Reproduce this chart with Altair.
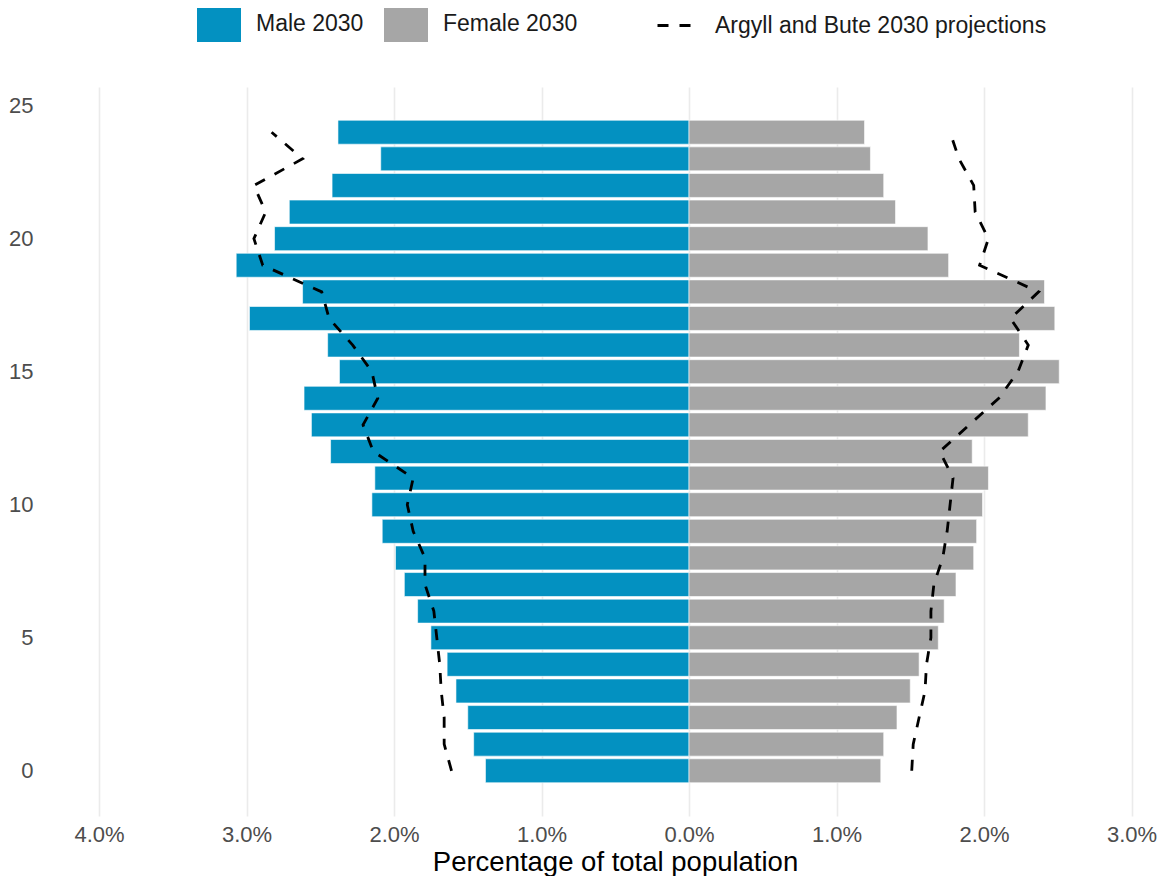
import altair as alt
import pandas as pd

# ---------------- data ----------------
ages = list(range(25))
sex_labels = ["Male 2030", "Female 2030"]
proj_label = "Argyll and Bute 2030 projections"

# 2030 shares (% of total population) per single year of age
male_2030 = [1.38, 1.46, 1.50, 1.58, 1.64, 1.75, 1.84, 1.93, 1.99, 2.08,
             2.15, 2.13, 2.43, 2.56, 2.61, 2.37, 2.45, 2.98, 2.62, 3.07,
             2.81, 2.71, 2.42, 2.09, 2.38]
female_2030 = [1.30, 1.32, 1.41, 1.50, 1.56, 1.69, 1.73, 1.81, 1.93, 1.95,
               1.99, 2.03, 1.92, 2.30, 2.42, 2.51, 2.24, 2.48, 2.41, 1.76,
               1.62, 1.40, 1.32, 1.23, 1.19]

# Argyll and Bute 2030 projections (dashed outline)
male_ab = [1.61, 1.66, 1.66, 1.68, 1.69, 1.71, 1.73, 1.79, 1.79, 1.87,
           1.91, 1.87, 2.14, 2.21, 2.11, 2.15, 2.28, 2.44, 2.49, 2.89,
           2.95, 2.87, 2.95, 2.62, 2.83]
female_ab = [1.51, 1.52, 1.56, 1.60, 1.61, 1.64, 1.64, 1.66, 1.72, 1.75,
             1.77, 1.79, 1.70, 1.90, 2.10, 2.23, 2.30, 2.18, 2.37, 1.97,
             2.03, 1.94, 1.93, 1.83, 1.77]

x_ticks = [-4, -3, -2, -1, 0, 1, 2, 3]
y_ticks = [0, 5, 10, 15, 20, 25]

bar_df = pd.DataFrame({
    "age": ages + ages,
    "sex": [sex_labels[0]] * len(ages) + [sex_labels[1]] * len(ages),
    "value": male_2030 + female_2030,
})
line_df = pd.DataFrame({
    "age": ages + ages,
    "side": ["male"] * len(ages) + ["female"] * len(ages),
    "value": male_ab + female_ab,
    "series": [proj_label] * (2 * len(ages)),
})

FONT = "Liberation Sans"

x_scale = alt.Scale(domain=[-4.373, 3.166], nice=False, zero=False)
y_scale = alt.Scale(domain=[-1.7, 25.7], nice=False, zero=False)

x_axis = alt.Axis(
    values=x_ticks,
    labelExpr="format(abs(datum.value) / 100, '.1%')",
    title="Percentage of total population",
    titleFontSize=27.5, titleFontWeight="normal", titleColor="#000000",
    titleBaseline="alphabetic", titleY=54, titleX=571, titleAlign="center",
    labelFontSize=22, labelColor="#4D4D4D", labelPadding=8,
    domain=False, ticks=False, grid=True, gridColor="#EBEBEB", gridWidth=1.6,
)
y_axis = alt.Axis(
    values=y_ticks, title=None,
    labelFontSize=22, labelColor="#4D4D4D", labelPadding=11,
    domain=False, ticks=False, grid=False,
)

bars = alt.Chart(bar_df).transform_calculate(
    pct="datum.sex == 'Male 2030' ? -datum.value : datum.value",
    y_lo="datum.age - 0.45",
    y_hi="datum.age + 0.45",
).mark_bar(stroke="white", strokeWidth=0.6).encode(
    x=alt.X("pct:Q", scale=x_scale, axis=x_axis),
    x2=alt.datum(0),
    y=alt.Y("y_lo:Q", scale=y_scale, axis=y_axis),
    y2="y_hi:Q",
    color=alt.Color(
        "sex:N",
        scale=alt.Scale(domain=sex_labels, range=["#0391C1", "#A6A6A6"]),
        legend=alt.Legend(
            orient="none", legendX=153, legendY=-85, direction="horizontal",
            title=None, symbolType="M-1,-0.818H1V0.818H-1Z", symbolSize=1936,
            symbolStrokeWidth=0, labelFontSize=23, labelColor="#1A1A1A",
            labelOffset=15, columnPadding=20, padding=0, labelFont=FONT,
            labelLimit=600,
        ),
    ),
)

lines = alt.Chart(line_df).transform_calculate(
    pct="datum.side == 'male' ? -datum.value : datum.value",
).mark_line(color="black", strokeWidth=2.8).encode(
    x=alt.X("pct:Q", scale=x_scale, axis=x_axis),
    y=alt.Y("age:Q", scale=y_scale, axis=y_axis),
    detail="side:N",
    order="age:Q",
    strokeDash=alt.StrokeDash(
        "series:N",
        scale=alt.Scale(domain=[proj_label], range=[[11, 11]]),
        legend=alt.Legend(
            orient="none", legendX=612, legendY=-80, direction="horizontal",
            title=None, symbolSize=1156, symbolStrokeWidth=2.8,
            symbolStrokeColor="black", labelFontSize=23, labelColor="#1A1A1A",
            labelOffset=22, padding=0, labelFont=FONT, labelLimit=600,
        ),
    ),
)

chart = alt.layer(bars, lines).properties(
    width=1112,
    height=729,
    autosize=alt.AutoSizeParams(type="none"),
    padding={"left": 36, "top": 79, "right": 1, "bottom": 60},
).configure(
    font=FONT,
).configure_view(
    stroke=None,
)

chart.save("out.html", embed_options={"renderer": "svg", "actions": False})
